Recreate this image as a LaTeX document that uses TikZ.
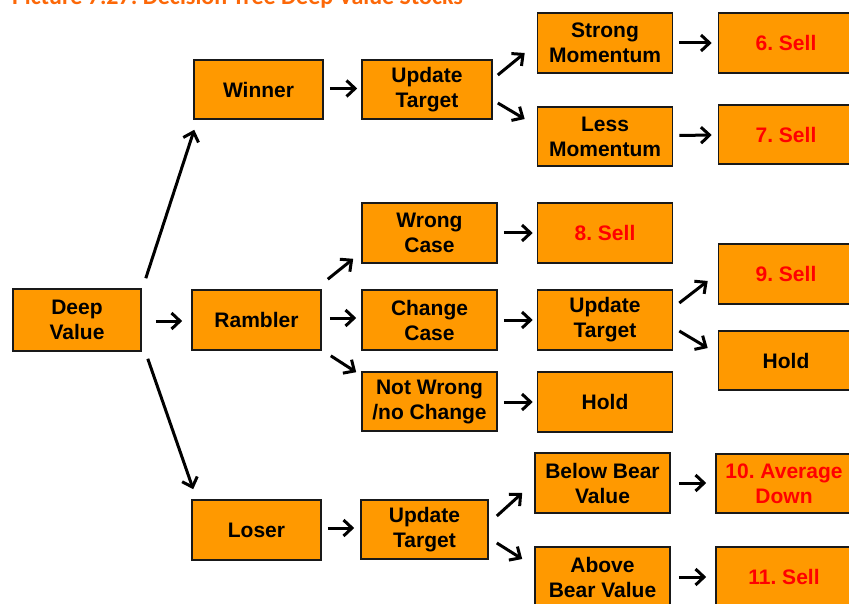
\documentclass[tikz,border=0pt]{standalone}
\usepackage{fontspec}
\setmainfont{Liberation Sans}
\newfontfamily\titlefont{Carlito}
\usetikzlibrary{arrows.meta,calc}
\definecolor{boxfill}{RGB}{255,153,0}
\definecolor{titleorange}{RGB}{252,104,8}
\definecolor{sellred}{RGB}{255,0,0}
\frenchspacing
\begin{document}
\begin{tikzpicture}[x=1pt,y=-1pt,
  stepbox/.style={draw=black!90,line width=1.6pt,fill=boxfill,
    minimum width=135pt,minimum height=60pt,inner sep=0pt,align=center,
    font=\fontsize{21}{25}\selectfont\bfseries},
  sellbox/.style={stepbox,text=sellred},
  arr/.style={line width=3pt,-{Straight Barb[length=8.5pt,width=16pt]}}]
\useasboundingbox (0,0) rectangle (849,604);
\clip (0,0) rectangle (849,604);

% heading, partly above the top edge
\node[anchor=base west,inner sep=0pt,text=titleorange,
  font=\titlefont\fontsize{24}{28}\selectfont\bfseries] (title) at (12,5)
  {Picture 7.27: Decision Tree Deep Value Stocks};

% first level
\node[stepbox,minimum width=128pt,minimum height=62pt] (dv) at (77,320) {Deep\\Value};
\node[stepbox,minimum width=129pt,minimum height=59pt] (winner) at (258.5,89.5) {Winner};
\node[stepbox,minimum width=129pt] (rambler) at (256.5,320) {Rambler};
\node[stepbox,minimum width=129pt] (loser) at (256.5,530) {Loser};

% winner branch
\node[stepbox,minimum width=130pt,minimum height=59pt] (ut1) at (427,89.5) {Update\\Target};
\node[stepbox] (strong) at (605,43) {Strong\\Momentum};
\node[stepbox,minimum height=59pt] (less) at (605,136.5) {Less\\Momentum};
\node[sellbox] (s6) at (786,43) {6. Sell};
\node[sellbox,minimum height=59pt] (s7) at (786,134.5) {7. Sell};

% rambler branch
\node[stepbox] (wrong) at (429.5,233) {Wrong\\Case};
\node[stepbox] (change) at (429.5,320) {Change\\Case};
\node[stepbox,minimum height=59pt] (notwrong) at (429.5,401.5) {Not Wrong\\/no Change};
\node[sellbox] (s8) at (605,233) {8. Sell};
\node[stepbox] (ut2) at (605,320) {Update\\Target};
\node[stepbox] (hold1) at (605,402) {Hold};
\node[sellbox] (s9) at (786,274) {9. Sell};
\node[stepbox,minimum height=59pt] (hold2) at (786,360.5) {Hold};

% loser branch
\node[stepbox,minimum width=127pt,minimum height=59pt] (ut3) at (424.5,529.5) {Update\\Target};
\node[stepbox] (below) at (602.5,483) {Below Bear\\Value};
\node[stepbox] (above) at (602.5,577) {Above\\Bear Value};
\node[sellbox,minimum width=136pt,minimum height=59pt] (s10) at (784,483.5) {10. Average\\Down};
\node[sellbox,minimum width=136pt] (s11) at (784,577) {11. Sell};

% connectors from the root
\draw[arr] ($(dv.east)+(14,1)$) -- ($(rambler.west)+(-9,1)$);
\draw[arr] ($(dv.north east)+(4,-10)$) -- ($(winner.south west)+(1,10)$);
\draw[arr] ($(dv.south east)+(6,7)$) -- ($(loser.north west)+(2,-10)$);

% winner branch
\draw[arr] ($(winner.east)+(6,-1)$) -- ($(ut1.west)+(-4,-1)$);
\draw[arr] ($(ut1.east)+(5,-14.5)$) -- ($(strong.west)+(-12,10)$);
\draw[arr] ($(ut1.east)+(5,13.5)$) -- ($(less.west)+(-12,-17.5)$);
\draw[arr] ($(strong.east)+(6,0)$) -- ($(s6.west)+(-6,0)$);
\draw[arr] ($(less.east)+(6,-1)$) -- ($(s7.west)+(-6,0.5)$);

% rambler branch
\draw[arr] ($(rambler.north east)+(6,-10)$) -- ($(wrong.south west)+(-8,-5)$);
\draw[arr] ($(rambler.east)+(8,-2)$) -- ($(change.west)+(-5,-2)$);
\draw[arr] ($(rambler.south east)+(9,5)$) -- ($(notwrong.north west)+(-5,1)$);
\draw[arr] ($(wrong.east)+(6,0)$) -- ($(s8.west)+(-4,0)$);
\draw[arr] ($(change.east)+(6,0)$) -- ($(ut2.west)+(-4,0)$);
\draw[arr] ($(notwrong.east)+(6,0.5)$) -- ($(hold1.west)+(-4,0)$);
\draw[arr] ($(ut2.east)+(6,-17)$) -- ($(s9.west)+(-10,7)$);
\draw[arr] ($(ut2.east)+(6,11)$) -- ($(hold2.west)+(-10,-12.5)$);

% loser branch
\draw[arr] ($(loser.east)+(6,-2)$) -- ($(ut3.west)+(-6,-1.5)$);
\draw[arr] ($(ut3.east)+(8,-13.5)$) -- ($(below.west)+(-12,10)$);
\draw[arr] ($(ut3.east)+(8,13.5)$) -- ($(above.west)+(-12,-18)$);
\draw[arr] ($(below.east)+(8,0)$) -- ($(s10.west)+(-9,-0.5)$);
\draw[arr] ($(above.east)+(8,0)$) -- ($(s11.west)+(-9,0)$);
\end{tikzpicture}
\end{document}
